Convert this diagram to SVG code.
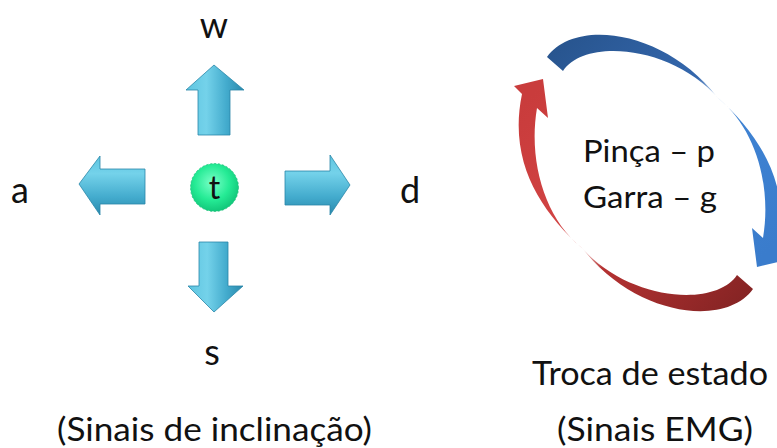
<svg xmlns="http://www.w3.org/2000/svg" width="777" height="448" viewBox="0 0 777 448">
<defs>
<style>
.t{font-family:Lato,"Open Sans","Liberation Sans",sans-serif;fill:#111}
.arw{stroke:#2a86a8;stroke-width:0.8;stroke-linejoin:round}
</style>
<linearGradient id="gh" x1="0" y1="0" x2="0" y2="1">
<stop offset="0" stop-color="#5ec5e0"/><stop offset="0.3" stop-color="#74d2ea"/><stop offset="0.7" stop-color="#43abcd"/><stop offset="1" stop-color="#2a89ac"/>
</linearGradient>
<linearGradient id="gv" x1="0" y1="0" x2="1" y2="0">
<stop offset="0" stop-color="#5ec5e0"/><stop offset="0.35" stop-color="#74d2ea"/><stop offset="0.7" stop-color="#43abcd"/><stop offset="1" stop-color="#2a89ac"/>
</linearGradient>
<radialGradient id="gg" cx="0.45" cy="0.4" r="0.6">
<stop offset="0" stop-color="#7affc8"/><stop offset="0.6" stop-color="#25eb95"/><stop offset="1" stop-color="#12c77a"/>
</radialGradient>
<linearGradient id="gb" gradientUnits="userSpaceOnUse" x1="547" y1="57" x2="760" y2="260">
<stop offset="0" stop-color="#28558f"/><stop offset="0.42" stop-color="#3467ad"/><stop offset="0.51" stop-color="#c5daf3"/><stop offset="0.58" stop-color="#3f83d3"/><stop offset="1" stop-color="#3a7ccc"/>
</linearGradient>
<linearGradient id="gr" gradientUnits="userSpaceOnUse" x1="547" y1="57" x2="760" y2="260">
<stop offset="0" stop-color="#862424"/><stop offset="0.42" stop-color="#b53232"/><stop offset="0.51" stop-color="#f2c6c6"/><stop offset="0.58" stop-color="#d24444"/><stop offset="1" stop-color="#c93c3c"/>
</linearGradient>
<path id="circ" d="M547,57 C575,18 665,30 717,97 C760,135 792,185 778,252 L786,260 L757,267 L752,228 L763,238 C772,185 755,128 719,99 C672,45 585,38 563,71 Z"/>
</defs>
<rect width="777" height="448" fill="#fff"/>
<g id="connectors">
<g id="arrow-up"><polygon class="arw" fill="url(#gv)" points="214,65 244,90 230,90 230,135 198,135 198,90 186,90"/></g>
<g id="arrow-down"><polygon class="arw" fill="url(#gv)" points="214,312 243,286 228,286 228,242 199,242 199,286 188,286"/></g>
<g id="arrow-left"><polygon class="arw" fill="url(#gh)" points="79,184 100,156 100,169 145,169 145,204 100,204 100,215"/></g>
<g id="arrow-right"><polygon class="arw" fill="url(#gh)" points="350,185 330,155 330,171 285,171 285,205 330,205 330,215"/></g>
<g id="cycle-blue"><use href="#circ" fill="url(#gb)"/></g>
<g id="cycle-red"><use href="#circ" fill="url(#gr)" transform="rotate(180 650 173)"/></g>
</g>
<g id="node-t">
<circle cx="214.5" cy="187.5" r="24" fill="url(#gg)" stroke="#1fbf7a" stroke-width="0.8" stroke-dasharray="2 2"/>
<text class="t" x="214.5" y="199" font-size="32" text-anchor="middle">t</text>
</g>
<g id="node-w"><text class="t" x="214" y="38" font-size="36" text-anchor="middle">w</text></g>
<g id="node-a"><text class="t" x="20" y="203" font-size="36" text-anchor="middle">a</text></g>
<g id="node-d"><text class="t" x="410" y="203" font-size="36" text-anchor="middle">d</text></g>
<g id="node-s"><text class="t" x="212" y="365" font-size="36" text-anchor="middle">s</text></g>
<g id="node-states">
<text class="t" x="583" y="162" font-size="31" textLength="132" lengthAdjust="spacingAndGlyphs">Pinça – p</text>
<text class="t" x="583" y="208" font-size="31" textLength="134" lengthAdjust="spacingAndGlyphs">Garra – g</text>
</g>
<g id="label-troca"><text class="t" x="532" y="385" font-size="32" textLength="236" lengthAdjust="spacingAndGlyphs">Troca de estado</text></g>
<g id="label-emg"><text class="t" x="557" y="441" font-size="32" textLength="196" lengthAdjust="spacingAndGlyphs">(Sinais EMG)</text></g>
<g id="label-incl"><text class="t" x="57" y="441" font-size="32" textLength="315" lengthAdjust="spacingAndGlyphs">(Sinais de inclinação)</text></g>
</svg>
